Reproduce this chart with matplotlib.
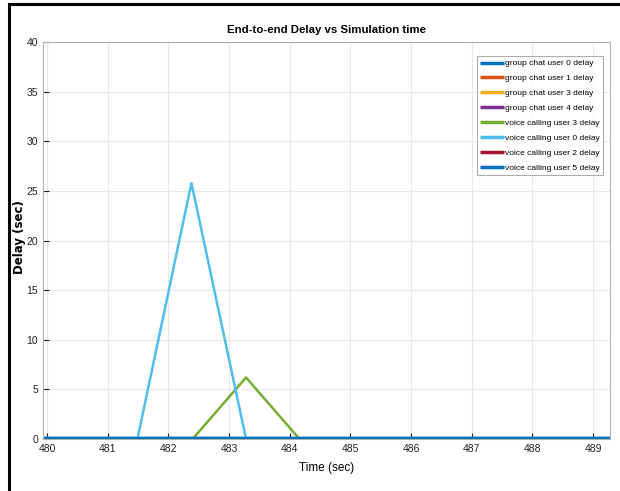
import matplotlib
matplotlib.use("Agg")
import matplotlib.pyplot as plt
from matplotlib.lines import Line2D

plt.rcParams['font.family'] = ['Liberation Sans', 'DejaVu Sans']

# series data (time in sec, delay in sec)
t_zero = [479.9, 489.3]
d_zero = [0, 0]

t_vc3 = [479.9, 482.40, 483.28, 484.16, 489.3]
d_vc3 = [0, 0, 6.2, 0, 0]

t_vc0 = [479.9, 481.49, 482.38, 483.28, 489.3]
d_vc0 = [0, 0, 25.8, 0, 0]

labels = ['group chat user 0 delay', 'group chat user 1 delay',
          'group chat user 3 delay', 'group chat user 4 delay',
          'voice calling user 3 delay', 'voice calling user 0 delay',
          'voice calling user 2 delay', 'voice calling user 5 delay']
colors = ['#0072BD', '#D95319', '#EDB120', '#7E2F8E',
          '#77AC30', '#4DBEEE', '#A2142F', '#0072BD']

series = {
    'group chat user 0 delay': (t_zero, d_zero),
    'group chat user 1 delay': (t_zero, d_zero),
    'group chat user 3 delay': (t_zero, d_zero),
    'group chat user 4 delay': (t_zero, d_zero),
    'voice calling user 3 delay': (t_vc3, d_vc3),
    'voice calling user 0 delay': (t_vc0, d_vc0),
    'voice calling user 2 delay': (t_zero, d_zero),
    'voice calling user 5 delay': (t_zero, d_zero),
}

fig = plt.figure(figsize=(6.2, 4.91), dpi=100)
ax = fig.add_axes([0.069, 0.106, 0.915, 0.808])

for lab, c in zip(labels, colors):
    t, d = series[lab]
    lw = 3.2 if lab in ('group chat user 0 delay', 'voice calling user 5 delay') else 1.8
    ax.plot(t, d, color=c, lw=lw, label=lab, solid_capstyle='butt')

ax.set_xlim(479.93, 489.28)
ax.set_ylim(0, 40)
ax.set_xticks(range(480, 490))
ax.set_yticks(range(0, 41, 5))
ax.grid(True, color='#e8e8e8', lw=0.8)
ax.set_axisbelow(True)
ax.tick_params(direction='in', length=4, labelsize=7.5, colors='#222222')
for s in ax.spines.values():
    s.set_color('#b0b0b0')
    s.set_linewidth(0.8)

ax.set_title('End-to-end Delay vs Simulation time', fontsize=8.2, fontweight='bold', pad=7)
ax.set_xlabel('Time (sec)', fontsize=8.5, labelpad=6)
ax.set_ylabel('Delay (sec)', fontsize=8.5, fontweight='bold', family=['DejaVu Sans'])
ax.yaxis.set_label_coords(-0.029, 0.51)

leg = ax.legend(loc='upper right', fontsize=6.0, handlelength=2.8, handletextpad=0.15,
                labelspacing=0.85, borderpad=0.4, fancybox=False,
                bbox_to_anchor=(0.995, 0.975))
leg.get_frame().set_edgecolor('#999999')
leg.get_frame().set_linewidth(0.8)
for h in leg.get_lines():
    h.set_linewidth(2.5)

# black frame at left and top
fig.add_artist(Line2D([0.015, 0.015], [0, 0.992], color='black', lw=2.2, transform=fig.transFigure))
fig.add_artist(Line2D([0.015, 1.0], [0.992, 0.992], color='black', lw=2.2, transform=fig.transFigure))

fig.savefig('out.png', dpi=100)
